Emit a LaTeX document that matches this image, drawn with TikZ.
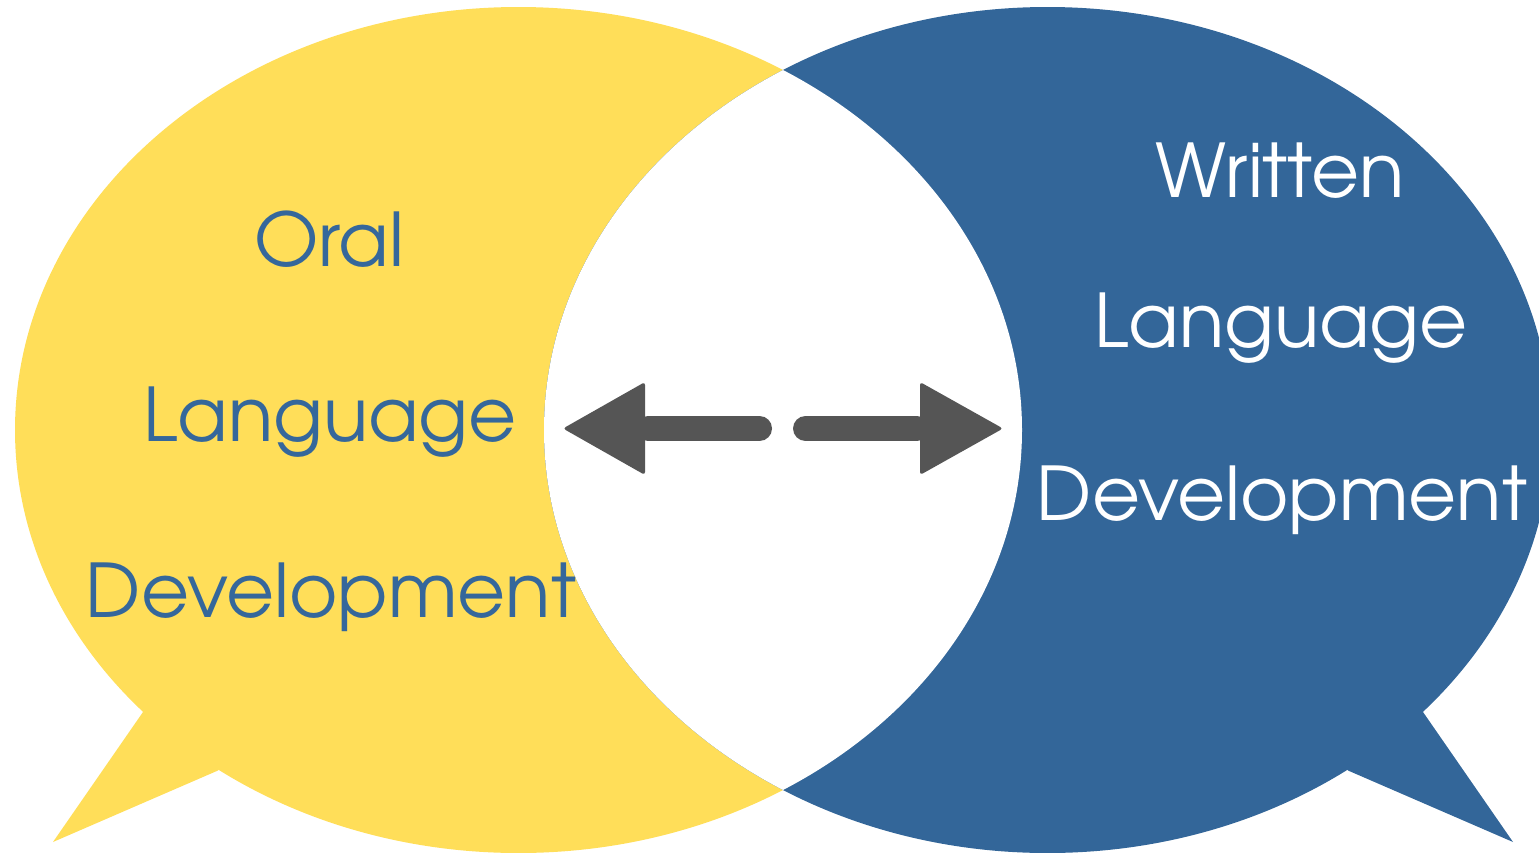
\documentclass[tikz,border=0pt]{standalone}
\usepackage{fontspec}
\setmainfont{texgyreadventor}[Extension=.otf, UprightFont=*-regular]
\definecolor{bubbleyellow}{HTML}{FFDE59}
\definecolor{bubbleblue}{HTML}{336699}
\definecolor{textblue}{HTML}{35679B}
\definecolor{arrowgray}{HTML}{555555}
\tikzset{
  bigtext/.style={font=\fontsize{74}{80}\selectfont, anchor=base, inner sep=0pt},
  oraltext/.style={bigtext, text=textblue},
  writtentext/.style={bigtext, text=white},
  shaft/.style={draw=arrowgray, line width=25pt, line cap=round},
  arrowhead/.style={fill=arrowgray, rounded corners=3pt},
}
\begin{document}
\begin{tikzpicture}[x=1pt,y=-1pt]
\useasboundingbox (0,0) rectangle (1539,852);
\clip (0,0) rectangle (1539,852);
% left bubble
\fill[bubbleyellow] (143,712) -- (53,842) -- (218,770.5) -- (240,740) -- (180,700) -- cycle;
\fill[bubbleyellow] (518.5,430) ellipse [x radius=503.5, y radius=423];
% right bubble
\fill[bubbleblue] (1423,712) -- (1513,842) -- (1348,770.5) -- (1326,740) -- (1386,700) -- cycle;
\fill[bubbleblue] (1047.5,430) ellipse [x radius=503.5, y radius=423];
% overlap
\begin{scope}
  \clip (518.5,430) ellipse [x radius=503.5, y radius=423];
  \fill[white] (1047.5,430) ellipse [x radius=503.5, y radius=423];
\end{scope}
% arrows
\coordinate (lend) at (759.5,428.5);
\coordinate (lhead) at (648,428.5);
\coordinate (ltip) at (563,428.5);
\coordinate (rend) at (805.5,428.5);
\coordinate (rhead) at (917,428.5);
\coordinate (rtip) at (1003,428.5);
\draw[shaft] (lend) -- (lhead);
\fill[arrowhead] (ltip) -- (645,382) -- (645,475) -- cycle;
\draw[shaft] (rend) -- (rhead);
\fill[arrowhead] (rtip) -- (920,382) -- (920,475) -- cycle;
% texts
\node[oraltext] (oral) at (329,266) {Oral};
\node[oraltext] (olang) at (330,441) {Language};
\node[oraltext] (odev) at (331,617) {Development};
\node[writtentext] (written) at (1280,197) {Written};
\node[writtentext] (wlang) at (1281,347) {Language};
\node[writtentext] (wdev) at (1282,520) {Development};
\end{tikzpicture}
\end{document}
